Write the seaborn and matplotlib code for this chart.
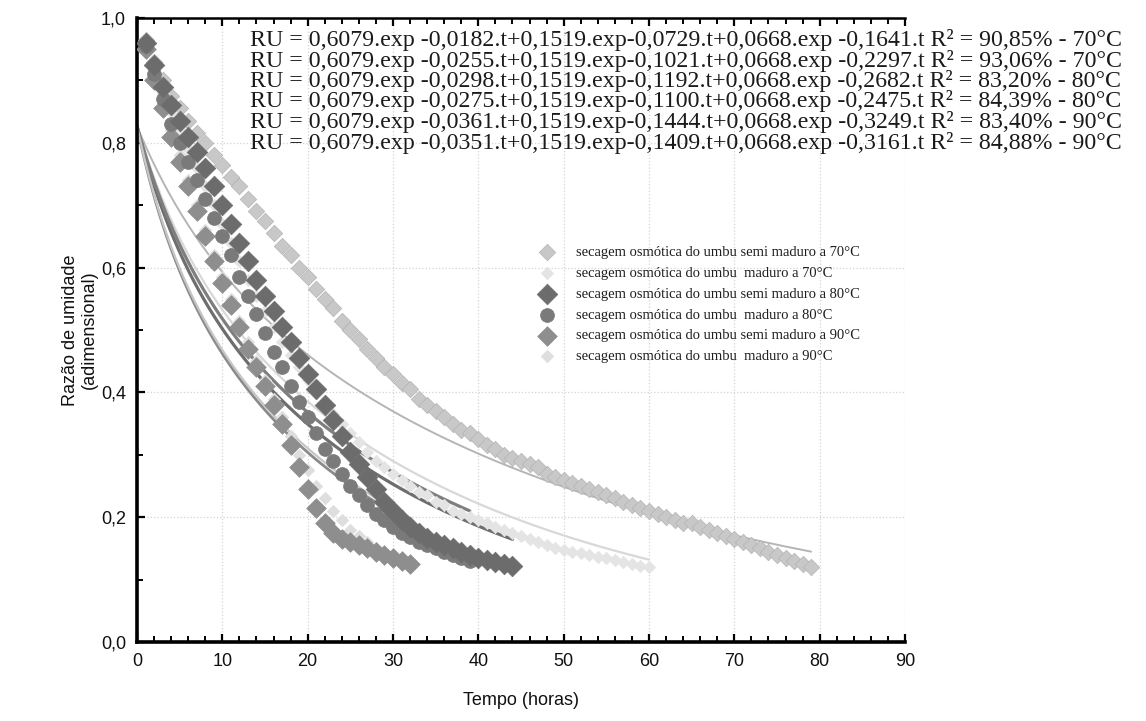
import numpy as np
import pandas as pd
import matplotlib
matplotlib.use("Agg")
import matplotlib.pyplot as plt
import seaborn as sns
from matplotlib.ticker import MultipleLocator, FuncFormatter

sns.set_theme(style="white")
plt.rcParams['font.family'] = ['Liberation Sans', 'DejaVu Sans']

# ---- legend labels -------------------------------------------------------
LABELS = [
    "secagem osmótica do umbu semi maduro a 70°C",
    "secagem osmótica do umbu  maduro a 70°C",
    "secagem osmótica do umbu semi maduro a 80°C",
    "secagem osmótica do umbu  maduro a 80°C",
    "secagem osmótica do umbu semi maduro a 90°C",
    "secagem osmótica do umbu  maduro a 90°C",
]

# ---- measured moisture ratio, one reading per hour starting at t = 1 h ----
RU_SEMI_70 = [0.965, 0.93, 0.90, 0.875, 0.855, 0.835, 0.815, 0.80, 0.78, 0.765,
              0.745, 0.73, 0.71, 0.69, 0.675, 0.655, 0.635, 0.62, 0.60, 0.585,
              0.565, 0.55, 0.535, 0.515, 0.50, 0.485, 0.47, 0.455, 0.44, 0.43,
              0.415, 0.405, 0.39, 0.38, 0.37, 0.36, 0.35, 0.34, 0.335, 0.325,
              0.315, 0.31, 0.30, 0.295, 0.29, 0.285, 0.28, 0.27, 0.265, 0.26,
              0.255, 0.25, 0.245, 0.24, 0.235, 0.23, 0.225, 0.22, 0.215, 0.21,
              0.205, 0.20, 0.195, 0.19, 0.19, 0.185, 0.18, 0.175, 0.17, 0.165,
              0.16, 0.155, 0.15, 0.145, 0.14, 0.135, 0.13, 0.125, 0.12]
RU_MAD_70 = [0.96, 0.92, 0.88, 0.85, 0.82, 0.79, 0.76, 0.73, 0.70, 0.67,
             0.64, 0.61, 0.58, 0.555, 0.53, 0.505, 0.48, 0.46, 0.44, 0.42,
             0.40, 0.38, 0.365, 0.35, 0.335, 0.32, 0.305, 0.29, 0.28, 0.27,
             0.26, 0.25, 0.24, 0.235, 0.225, 0.22, 0.21, 0.205, 0.20, 0.195,
             0.19, 0.185, 0.18, 0.175, 0.17, 0.165, 0.16, 0.155, 0.15, 0.148,
             0.145, 0.142, 0.14, 0.137, 0.134, 0.131, 0.128, 0.125, 0.122, 0.12]
RU_SEMI_80 = [0.96, 0.925, 0.89, 0.86, 0.835, 0.81, 0.785, 0.76, 0.73, 0.70,
              0.67, 0.64, 0.61, 0.58, 0.555, 0.53, 0.505, 0.48, 0.455, 0.43,
              0.405, 0.38, 0.355, 0.33, 0.305, 0.285, 0.265, 0.245, 0.225, 0.21,
              0.195, 0.185, 0.175, 0.167, 0.16, 0.155, 0.15, 0.145, 0.14, 0.135,
              0.132, 0.128, 0.125, 0.122]
RU_MAD_80 = [0.955, 0.91, 0.87, 0.83, 0.80, 0.77, 0.74, 0.71, 0.68, 0.65,
             0.62, 0.585, 0.555, 0.525, 0.495, 0.465, 0.44, 0.41, 0.385, 0.36,
             0.335, 0.31, 0.29, 0.27, 0.25, 0.235, 0.22, 0.205, 0.195, 0.185,
             0.175, 0.168, 0.16, 0.155, 0.15, 0.145, 0.14, 0.135, 0.13]
RU_SEMI_90 = [0.95, 0.90, 0.855, 0.81, 0.77, 0.73, 0.69, 0.65, 0.61, 0.575,
              0.54, 0.505, 0.47, 0.44, 0.41, 0.38, 0.35, 0.315, 0.28, 0.245,
              0.215, 0.19, 0.175, 0.165, 0.16, 0.155, 0.15, 0.145, 0.14, 0.135,
              0.13, 0.125]
RU_MAD_90 = [0.96, 0.91, 0.86, 0.82, 0.78, 0.74, 0.70, 0.66, 0.62, 0.585,
             0.55, 0.515, 0.48, 0.45, 0.42, 0.39, 0.36, 0.33, 0.30, 0.275,
             0.25, 0.23, 0.21, 0.195, 0.18, 0.17, 0.16, 0.15, 0.14, 0.13,
             0.125, 0.12]
FIRST_HOUR = 1.0
HOUR_STEP = 1.0

# ---- three-term exponential model fitted to each run -------------------
A1, A2, A3 = 0.6079, 0.1519, 0.0668
K1 = [0.0182, 0.0255, 0.0298, 0.0275, 0.0361, 0.0351]
K2 = [0.0729, 0.1021, 0.1192, 0.1100, 0.1444, 0.1409]
K3 = [0.1641, 0.2297, 0.2682, 0.2475, 0.3249, 0.3161]
R2 = [90.85, 93.06, 83.20, 84.39, 83.40, 84.88]
TEMPS = [70, 70, 80, 80, 90, 90]

X_TICKS = [0, 10, 20, 30, 40, 50, 60, 70, 80, 90]
Y_TICKS = [0.0, 0.2, 0.4, 0.6, 0.8, 1.0]

SERIES = [RU_SEMI_70, RU_MAD_70, RU_SEMI_80, RU_MAD_80, RU_SEMI_90, RU_MAD_90]

# marker styling per run
MARKERS = ['D', 'D', 'D', 'o', 'D', 'D']
SIZES = [70, 40, 110, 100, 100, 40]
FACE = ['#c8c8c8', '#e4e4e4', '#6c6c6c', '#7a7a7a', '#8e8e8e', '#dedede']
EDGE = ['#b3b3b3', '#e4e4e4', '#6c6c6c', '#7a7a7a', '#8e8e8e', '#dedede']
LINE_COL = ['#b5b5b5', '#d8d8d8', '#6e6e6e', '#7e7e7e', '#8a8a8a', '#c6c6c6']
LINE_W = [1.4, 1.6, 2.3, 2.3, 2.0, 1.6]
DRAW_ORDER = [0, 1, 5, 4, 3, 2]


def fmt_pt(v, nd=4):
    return f"{v:.{nd}f}".replace('.', ',')


W, H = 1146, 721
fig = plt.figure(figsize=(W / 100, H / 100), dpi=100)
ax = fig.add_axes([137 / W, 1 - 642 / H, (905 - 137) / W, (642 - 18) / H])

frames = []
for i, vals in enumerate(SERIES):
    t = FIRST_HOUR + HOUR_STEP * np.arange(len(vals))
    frames.append(pd.DataFrame({'tempo': t, 'RU': vals, 'serie': LABELS[i]}))

# fitted curves, from t = 0 to the last reading of each run
for i, df in enumerate(frames):
    tt = np.linspace(0, df['tempo'].max(), 300)
    ru = A1 * np.exp(-K1[i] * tt) + A2 * np.exp(-K2[i] * tt) + A3 * np.exp(-K3[i] * tt)
    sns.lineplot(x=tt, y=ru, ax=ax, color=LINE_COL[i], lw=LINE_W[i],
                 legend=False, zorder=2)

for i in DRAW_ORDER:
    df = frames[i]
    sns.scatterplot(data=df, x='tempo', y='RU', ax=ax, marker=MARKERS[i],
                    s=SIZES[i], color=FACE[i], edgecolor=EDGE[i], linewidth=0.5,
                    label=LABELS[i], zorder=3)

h, l = ax.get_legend_handles_labels()
order = [l.index(lab) for lab in LABELS]
leg = ax.legend([h[j] for j in order], [l[j] for j in order],
                loc='upper left', bbox_to_anchor=(540 / W, 1 - 246 / H),
                bbox_transform=fig.transFigure, frameon=False,
                prop={'family': 'Liberation Serif', 'size': 10.5},
                labelspacing=0.52, handletextpad=1.5, handlelength=1.0,
                borderaxespad=0, borderpad=0)
for txt in leg.get_texts():
    txt.set_color('#1e1e1e')

# model equations
row_y = [40, 61, 81, 101, 122, 143]
for i in range(6):
    s = (f"RU = {fmt_pt(A1)}.exp -{fmt_pt(K1[i])}.t+{fmt_pt(A2)}.exp-{fmt_pt(K2[i])}.t"
         f"+{fmt_pt(A3)}.exp -{fmt_pt(K3[i])}.t R² = {fmt_pt(R2[i], 2)}% - {TEMPS[i]}°C")
    fig.text(250 / W, 1 - row_y[i] / H, s, family='Liberation Serif', fontsize=17.2,
             color='#1a1a1a', va='center', ha='left')

ax.set_xlim(0, 90)
ax.set_ylim(0, 1.0)
ax.set_xticks(X_TICKS)
ax.set_yticks(Y_TICKS)
ax.xaxis.set_minor_locator(MultipleLocator(2))
ax.yaxis.set_minor_locator(MultipleLocator(0.1))
ax.yaxis.set_major_formatter(FuncFormatter(lambda v, p: f"{v:.1f}".replace('.', ',')))
ax.tick_params(which='both', direction='in', colors='black', labelcolor='#111111',
               top=True, bottom=True, left=True, right=False, labelsize=13)
ax.tick_params(which='major', length=6, width=1.6, pad=8)
ax.tick_params(which='minor', length=4, width=1.4)

ax.grid(True, which='major', color='#d4d4d4', ls=':', lw=0.9)
ax.set_axisbelow(True)
for side in ['left', 'bottom', 'top']:
    ax.spines[side].set_color('black')
ax.spines['left'].set_linewidth(2.6)
ax.spines['bottom'].set_linewidth(2.6)
ax.spines['top'].set_linewidth(1.8)
ax.spines['right'].set_visible(False)

ax.set_xlabel("Tempo (horas)", fontsize=13, labelpad=16, color='#111111')
ax.set_ylabel("Razão de umidade\n(adimensional)", fontsize=13, labelpad=2,
              color='#111111', linespacing=1.15)

fig.savefig("out.png", dpi=100)
